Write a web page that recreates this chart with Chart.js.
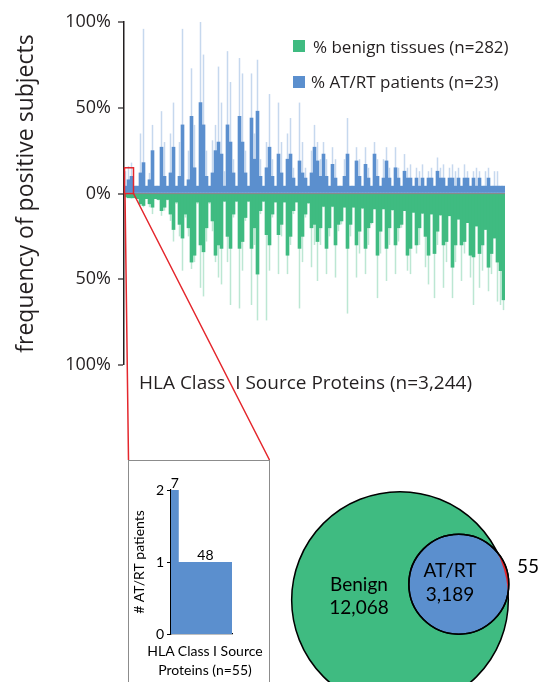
<!DOCTYPE html>
<html>
<head>
<meta charset="utf-8">
<title>HLA Class I source proteins: AT/RT patients vs benign tissues</title>
<script src="https://cdn.jsdelivr.net/npm/chart.js"></script>
<style>
  html, body { margin: 0; padding: 0; background: #fff; }
  #page { position: relative; width: 539px; height: 682px; overflow: hidden; font-family: "Open Sans", sans-serif; color: #231f20; }
  #page canvas { position: absolute; }
  .txt { position: absolute; white-space: nowrap; line-height: 1; }
  .key { position: absolute; width: 12px; height: 12px; }
  #insetFrame { position: absolute; left: 128px; top: 460px; width: 142px; height: 240px; box-sizing: border-box; border: 1px solid #8c8c8c; }
  #insetTitle { position: absolute; left: 140px; top: 641px; width: 130px; text-align: center; font-family: Lato, sans-serif; font-size: 14px; line-height: 19px; color: #000; white-space: nowrap; }
  .venn { position: absolute; width: 100px; text-align: center; font-family: Lato, sans-serif; font-size: 19px; color: #000; white-space: nowrap; }
</style>
</head>
<body>
<div id="page">
  <canvas id="mainChart" width="539" height="682" style="left:0;top:0"></canvas>
  <div id="legend"></div>
  <div class="txt" style="left:139px;top:373px;font-size:19px">HLA Class&nbsp; I Source Proteins (n=3,244)</div>
  <div id="insetFrame"></div>
  <canvas id="insetChart" width="141" height="222" style="left:128px;top:460px"></canvas>
  <div id="insetTitle"></div>
  <canvas id="vennChart" width="259" height="212" style="left:280px;top:470px"></canvas>
  <div class="venn" id="vBenign" style="left:309px;top:572px;line-height:23px"></div>
  <div class="venn" id="vShared" style="left:400px;top:558px;line-height:24px"></div>
  <div class="venn" id="vAtrt" style="left:517px;top:554px;line-height:23px;width:auto;text-align:left"></div>
</div>
<script>
// ---- data: main chart, one bar per ~25 source proteins ----
const seriesNames = ['% benign tissues (n=282)', '% AT/RT patients (n=23)'];

// % of AT/RT patients: tallest single proteins (pale) and the solid part
const atrtPeak = [
  13,16,18,4.3,4.3,35,96,4.3,12,40,
  4.3,4.3,48,30,4.3,35,53,4.3,30,96,
  4.3,25,73,40,4.3,100,81,25,4.3,31,
  40,74,53,13,83,65,20,4.3,79,70,
  25,4.3,70,35,78,20,4.3,30,58,20,
  4.3,53,30,4.3,35,44,15,4.3,53,30,
  15,4.3,25,40,30,20,30,20,4.3,27,
  20,4.3,4.3,20,44,4.3,4.3,27,20,4.3,
  27,15,4.3,30,20,4.3,20,27,15,4.3,
  27,15,4.3,23,15,17,4.3,15,13,17,
  4.3,13,15,4.3,21,15,17,4.3,15,17,
  13,15,4.3,17,13,4.3,13,15,13,4.3,
  13,15,4.3,13,13,4.3,4.3
];
const atrtCore = [
  4.3,8,10,4.3,4.3,12,18,4.3,8,25,
  4.3,4.3,27,10,4.3,12,27,4.3,10,40,
  4.3,8,45,15,4.3,53,40,10,4.3,12,
  25,30,23,4.3,40,30,12,4.3,45,30,
  12,4.3,44,20,48,10,4.3,15,27,10,
  4.3,23,12,4.3,20,23,9,4.3,19,12,
  9,4.3,12,27,19,10,23,10,4.3,17,
  9,4.3,4.3,10,23,4.3,4.3,19,10,4.3,
  17,9,4.3,23,10,4.3,9,19,9,4.3,
  15,9,4.3,13,9,9,4.3,9,4.3,9,
  4.3,9,9,4.3,13,9,9,4.3,9,9,
  4.3,9,4.3,9,9,4.3,9,4.3,9,4.3,
  4.3,9,4.3,4.3,4.3,4.3,4.3
];
// % of benign tissues (drawn downwards)
const benignCore = [
  2,2.5,2.5,2.5,3,6,7,3,6,8,
  3,3.5,10,8,3.5,12,21,5,18,26,
  12,20,40,36,5,30,34,20,5,16,
  36,30,32,4.5,25,32,12,4.5,32,28,
  14,4.5,32,20,47,10,4.5,24,30,12,
  5,24,18,5,36,25,10,5,32,25,
  12,5.5,20,18,28,20,7.5,32,20,7.5,
  30,18,16,8,32,18,8,30,22,8.5,
  32,20,17,9,36,22,9,32,20,9.5,
  30,20,18,10,36,32,11,30,20,11.5,
  25,36,12,35,22,12.5,30,28,13,43,
  30,15,30,28,17,36,37,19,35,30,
  21,43,35,26,40,45,62
];
const benignPeak = [
  2,2.5,3,2.5,3,7,8,3,8,12,
  3,4,13,10,4,16,28,6,25,45,
  14,25,44,40,6,55,60,28,6,22,
  40,49,53,5,40,65,14,5,67,45,
  16,5,65,30,74,12,5,74,45,14,
  5,47,25,5,47,30,12,5,67,40,
  14,6,43,30,51,30,8,47,25,8,
  49,22,18,8,70,25,8,49,35,9,
  47,30,18,9,61,35,9,51,30,10,
  47,28,20,10,45,47,11,35,30,12,
  43,53,12,61,30,13,55,40,13,61,
  40,15,51,35,17,49,65,19,55,45,
  21,57,47,26,63,65,68
];
const proteinBins = atrtCore.map((_, i) => i + 1);

// ---- data: inset (first 55 proteins) ----
const insetPatients = [2, 1];
const insetProteins = [7, 48];

// ---- data: Venn ----
const vennNames = ['Benign', 'AT/RT'];
const vennOnly = [12068, 55];
const vennShared = 3189;
const vennX = [120, 178.8];   // centres in chart units
const vennY = [130, 114.2];

const GREEN = '#3fbb81', BLUE = '#5b8fce', RED = '#e4262c', TXT = '#231f20';
const GREEN_PALE = 'rgba(63,187,129,0.35)', BLUE_PALE = 'rgba(91,143,206,0.35)';

// legend
const legend = document.getElementById('legend');
[[GREEN, 40, 313, 38], [BLUE, 76, 311, 73]].forEach((k, i) => {
  legend.insertAdjacentHTML('beforeend',
    `<div class="key" style="left:293px;top:${k[1]}px;background:${k[0]}"></div>` +
    `<div class="txt" style="left:${k[2]}px;top:${k[3]}px;font-size:17px">${seriesNames[i]}</div>`);
});

// red zoom box + lines down to the inset
const zoomCols = 3, zoomTop = 15;
const zoomBox = {
  id: 'zoomBox',
  afterDraw(chart) {
    const {ctx, scales: {x, y}} = chart;
    const w = (x.right - x.left) / proteinBins.length;
    const x0 = x.getPixelForValue(0) - w / 2;
    const x1 = x.getPixelForValue(zoomCols - 1) + w / 2;
    const yT = y.getPixelForValue(zoomTop), yB = y.getPixelForValue(0);
    const f = document.getElementById('insetFrame');
    ctx.save();
    ctx.strokeStyle = RED;
    ctx.lineWidth = 1.5;
    ctx.strokeRect(x0 + 0.5, yT, x1 - x0, yB - yT);
    ctx.beginPath();
    ctx.moveTo(x0 + 1, yB); ctx.lineTo(f.offsetLeft + 0.5, f.offsetTop);
    ctx.moveTo(x1 + 0.5, yB); ctx.lineTo(f.offsetLeft + f.offsetWidth - 0.5, f.offsetTop);
    ctx.stroke();
    ctx.restore();
  }
};

new Chart(document.getElementById('mainChart'), {
  type: 'bar',
  data: {
    labels: proteinBins,
    datasets: [
      { label: seriesNames[0], data: benignCore.map(v => -v), backgroundColor: GREEN },
      { label: seriesNames[1], data: atrtCore, backgroundColor: BLUE },
      { label: seriesNames[0] + ' peak', data: benignPeak.map(v => -v), backgroundColor: GREEN_PALE, barPercentage: 0.5 },
      { label: seriesNames[1] + ' peak', data: atrtPeak, backgroundColor: BLUE_PALE, barPercentage: 0.5 }
    ]
  },
  options: {
    responsive: false,
    animation: false,
    events: [],
    layout: { padding: { left: 0, top: 22, right: 34, bottom: 317 } },
    datasets: { bar: { grouped: false, barPercentage: 1, categoryPercentage: 1, borderWidth: 0 } },
    plugins: { legend: { display: false }, tooltip: { enabled: false } },
    scales: {
      x: { type: 'category', display: false },
      y: {
        min: -100, max: 100, z: 1,
        afterFit: s => { s.width = 124; },
        ticks: { stepSize: 50, padding: 7, color: TXT, font: { family: 'Open Sans', size: 18 },
                 callback: v => Math.abs(v) + '%' },
        grid: {
          tickLength: 6, tickColor: TXT, tickWidth: 1.2,
          color: c => (c.tick && c.tick.value === 0) ? '#8a8a8a' : 'rgba(0,0,0,0)',
          lineWidth: c => (c.tick && c.tick.value === 0) ? 2 : 0
        },
        border: { color: TXT, width: 1.5 },
        title: { display: true, text: 'frequency of positive subjects', color: TXT,
                 font: { family: 'Open Sans', size: 23 }, padding: { top: 13 } }
      }
    }
  },
  plugins: [zoomBox]
});

// inset: # AT/RT patients for the 55 proteins absent from benign tissue
const insetPoints = [];
let acc = 0;
insetProteins.forEach((n, i) => {
  insetPoints.push({ x: acc, y: insetPatients[i] });
  acc += n;
  insetPoints.push({ x: acc, y: insetPatients[i] });
});
document.getElementById('insetTitle').innerHTML = 'HLA Class I Source<br>Proteins (n=' + acc + ')';
const insetLabels = {
  id: 'insetLabels',
  afterDatasetsDraw(chart) {
    const {ctx, scales: {x, y}} = chart;
    ctx.save();
    ctx.font = '14px Lato';
    ctx.fillStyle = '#000';
    ctx.textAlign = 'center';
    let a = 0;
    insetProteins.forEach((n, i) => {
      ctx.fillText(String(n), x.getPixelForValue(a + n / 2), y.getPixelForValue(insetPatients[i]) - 2);
      a += n;
    });
    ctx.restore();
  }
};
new Chart(document.getElementById('insetChart'), {
  type: 'line',
  data: { datasets: [{ data: insetPoints, fill: 'origin', backgroundColor: BLUE,
                       borderColor: 'rgba(0,0,0,0)', borderWidth: 0, pointRadius: 0 }] },
  options: {
    responsive: false, animation: false, events: [],
    layout: { autoPadding: false, padding: { left: 0, top: 30, right: 37, bottom: 0 } },
    plugins: { legend: { display: false }, tooltip: { enabled: false } },
    scales: {
      x: {
        type: 'linear', min: 0, max: acc,
        afterFit: s => { s.height = 48; },
        ticks: { display: false }, grid: { display: false },
        border: { color: '#000', width: 1.2 }
      },
      y: {
        min: 0, max: 2,
        afterFit: s => { s.width = 43; },
        ticks: { stepSize: 1, padding: 3, color: '#000', font: { family: 'Lato', size: 14 } },
        grid: { drawOnChartArea: false, tickLength: 4, tickColor: '#000' },
        border: { color: '#000', width: 1.2 },
        title: { display: true, text: '# AT/RT patients', color: '#000',
                 font: { family: 'Lato', size: 14 }, padding: { top: 3 } }
      }
    }
  },
  plugins: [insetLabels]
});

// Venn: circle areas follow the protein counts
const vennTotals = [vennOnly[0] + vennShared, vennOnly[1] + vennShared];
const VENN_K = 0.877;
const vennSliver = {
  id: 'vennSliver',
  afterDatasetsDraw(chart) {
    const small = chart.getDatasetMeta(0).data[0];
    const big = chart.getDatasetMeta(1).data[0];
    const ctx = chart.ctx;
    ctx.save();
    ctx.beginPath();
    ctx.rect(0, 0, chart.width, chart.height);
    ctx.arc(big.x, big.y, big.options.radius, 0, Math.PI * 2);
    ctx.clip('evenodd');
    ctx.beginPath();
    ctx.arc(small.x, small.y, small.options.radius, 0, Math.PI * 2);
    ctx.fillStyle = RED;
    ctx.fill();
    ctx.restore();
    ctx.save();
    ctx.beginPath();
    ctx.arc(small.x, small.y, small.options.radius, 0, Math.PI * 2);
    ctx.lineWidth = 1.5;
    ctx.strokeStyle = '#000';
    ctx.stroke();
    ctx.restore();
  }
};
new Chart(document.getElementById('vennChart'), {
  type: 'bubble',
  data: {
    datasets: [
      { label: vennNames[1], data: [{ x: vennX[1], y: vennY[1], r: VENN_K * Math.sqrt(vennTotals[1]) }],
        backgroundColor: BLUE, borderColor: '#000', borderWidth: 1.5, clip: false },
      { label: vennNames[0], data: [{ x: vennX[0], y: vennY[0], r: VENN_K * Math.sqrt(vennTotals[0]) }],
        backgroundColor: GREEN, borderColor: '#000', borderWidth: 1.5, clip: false }
    ]
  },
  options: {
    responsive: false, animation: false, events: [],
    layout: { autoPadding: false, padding: 0 },
    plugins: { legend: { display: false }, tooltip: { enabled: false } },
    scales: {
      x: { type: 'linear', min: 0, max: 259, display: false },
      y: { type: 'linear', min: 0, max: 212, reverse: true, display: false }
    }
  },
  plugins: [vennSliver]
});
const fmt = n => n.toLocaleString('en-US');
document.getElementById('vBenign').innerHTML = vennNames[0] + '<br>' + fmt(vennOnly[0]);
document.getElementById('vShared').innerHTML = vennNames[1] + '<br>' + fmt(vennShared);
document.getElementById('vAtrt').textContent = fmt(vennOnly[1]);
</script>
</body>
</html>
